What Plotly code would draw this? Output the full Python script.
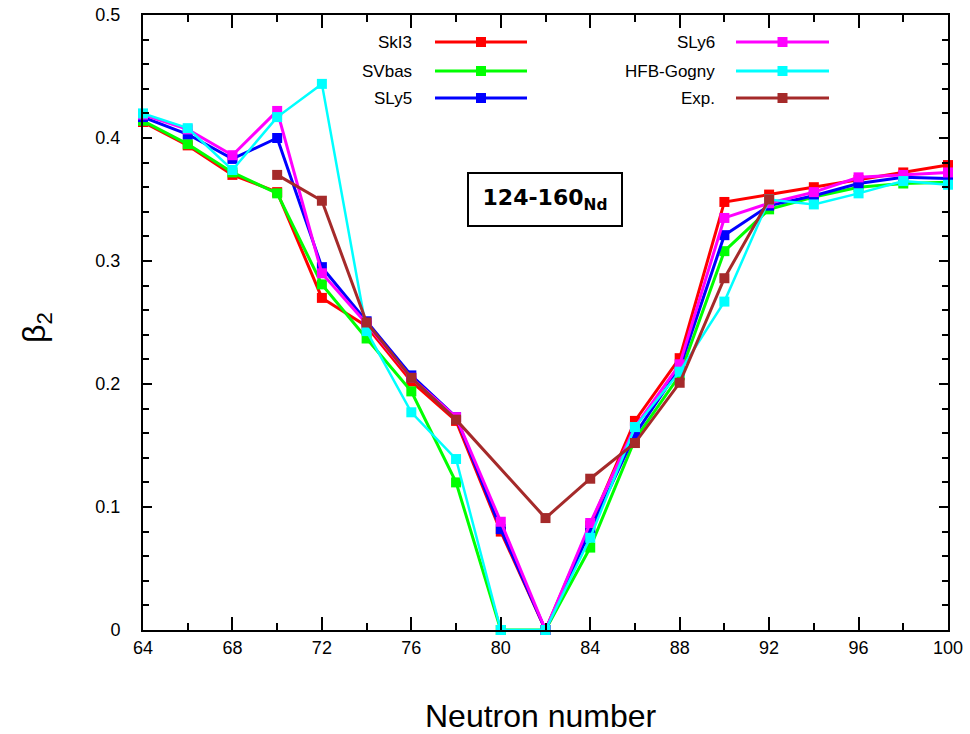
import plotly.graph_objects as go

# Quadrupole deformation beta_2 of Nd isotopes versus neutron number
neutrons = [64, 66, 68, 70, 72, 74, 76, 78, 80, 82, 84, 86, 88, 90, 92, 94, 96, 98, 100]

ski3 = [0.413, 0.394, 0.370, 0.356, 0.270, 0.247, 0.202, 0.170, 0.080, 0.0,
        0.085, 0.170, 0.221, 0.348, 0.354, 0.360, 0.366, 0.372, 0.378]
svbas = [0.414, 0.395, 0.372, 0.355, 0.281, 0.237, 0.194, 0.120, 0.0, 0.0,
         0.067, 0.155, 0.207, 0.308, 0.342, 0.352, 0.360, 0.363, 0.364]
sly5 = [0.417, 0.403, 0.383, 0.400, 0.295, 0.251, 0.207, 0.173, 0.082, 0.0,
        0.081, 0.159, 0.213, 0.321, 0.345, 0.353, 0.363, 0.368, 0.367]
sly6 = [0.419, 0.407, 0.386, 0.422, 0.290, 0.249, 0.205, 0.173, 0.088, 0.0,
        0.087, 0.165, 0.216, 0.335, 0.347, 0.356, 0.368, 0.370, 0.372]
hfb_gogny = [0.420, 0.408, 0.374, 0.417, 0.444, 0.243, 0.177, 0.139, 0.0, 0.0,
             0.075, 0.165, 0.210, 0.267, 0.350, 0.346, 0.355, 0.365, 0.362]

exp_neutrons = [70, 72, 74, 76, 78, 82, 84, 86, 88, 90, 92]
exp_beta = [0.370, 0.349, 0.250, 0.205, 0.171, 0.091, 0.123, 0.152, 0.201, 0.286, 0.350]

x_ticks = [64, 68, 72, 76, 80, 84, 88, 92, 96, 100]
y_ticks = [0, 0.1, 0.2, 0.3, 0.4, 0.5]

series = [
    ("SkI3", neutrons, ski3, "#ff0000", 3),
    ("SVbas", neutrons, svbas, "#00ff00", 3),
    ("SLy5", neutrons, sly5, "#0000ff", 3),
    ("SLy6", neutrons, sly6, "#ff00ff", 3),
    ("HFB-Gogny", neutrons, hfb_gogny, "#00ffff", 2.5),
    ("Exp.", exp_neutrons, exp_beta, "#a52a2a", 3),
]

fig = go.Figure()
for name, xs, ys, color, lw in series:
    fig.add_trace(go.Scatter(
        x=xs, y=ys, name=name, mode="lines+markers",
        line=dict(color=color, width=lw),
        marker=dict(symbol="square", size=10, color=color),
        cliponaxis=False, showlegend=False,
    ))

# Key drawn gnuplot-style: label on the left, sample line with a marker on the right
PLOT_L, PLOT_R, PLOT_T, PLOT_B = 143, 948, 15, 630


def px_x(p):
    return (p - PLOT_L) / (PLOT_R - PLOT_L)


def px_y(p):
    return (PLOT_B - p) / (PLOT_B - PLOT_T)


key_rows = [42, 71, 98]
key_cols = [(414, 435, 527), (717, 736, 829)]
annotations = []
shapes = []
for i, (name, _, _, color, lw) in enumerate(series):
    col, row = divmod(i, 3)
    tx, lx0, lx1 = key_cols[col]
    yy = px_y(key_rows[row])
    annotations.append(dict(
        x=px_x(tx), y=yy, xref="paper", yref="paper", text=name,
        showarrow=False, xanchor="right", yanchor="middle",
        font=dict(family="Liberation Sans, Arial, sans-serif", size=17, color="#000"),
    ))
    shapes.append(dict(
        type="line", xref="paper", yref="paper",
        x0=px_x(lx0), x1=px_x(lx1), y0=yy, y1=yy,
        line=dict(color=color, width=3),
    ))
    xm = px_x((lx0 + lx1) / 2)
    shapes.append(dict(
        type="rect", xref="paper", yref="paper",
        xsizemode="pixel", ysizemode="pixel", xanchor=xm, yanchor=yy,
        x0=-5, x1=5, y0=-5, y1=5,
        fillcolor=color, line=dict(width=0),
    ))

# Nucleus label box
annotations.append(dict(
    x=px_x(545), y=px_y(172), xref="paper", yref="paper",
    xanchor="center", yanchor="top",
    text="<b>124-160<sub>Nd</sub></b>", showarrow=False,
    font=dict(family="DejaVu Sans, sans-serif", size=22, color="#000"),
    bordercolor="#000", borderwidth=2, borderpad=4, bgcolor="#fff",
    width=144, height=43,
))

# Axis titles
annotations.append(dict(
    x=px_x(541), y=px_y(716), xref="paper", yref="paper",
    text="Neutron number", showarrow=False, xanchor="center", yanchor="middle",
    font=dict(family="Liberation Sans, Arial, sans-serif", size=32, color="#000"),
))
annotations.append(dict(
    x=px_x(36), y=px_y(328), xref="paper", yref="paper",
    text="β<sub>2</sub>", showarrow=False, textangle=-90,
    xanchor="center", yanchor="middle",
    font=dict(family="Liberation Sans, Arial, sans-serif", size=32, color="#000"),
))

axis_font = dict(family="Liberation Sans, Arial, sans-serif", size=18, color="#000")

fig.update_layout(
    width=970, height=734,
    margin=dict(l=PLOT_L, r=970 - PLOT_R, t=PLOT_T, b=734 - PLOT_B, autoexpand=False),
    paper_bgcolor="#fff", plot_bgcolor="#fff",
    showlegend=False,
    annotations=annotations, shapes=shapes,
    xaxis=dict(
        range=[64, 100], tickvals=x_ticks, ticks="inside", ticklen=13, tickwidth=1.5,
        tickcolor="#000", showline=True, linecolor="#000", linewidth=2,
        mirror="allticks", showgrid=False, zeroline=False, tickfont=axis_font,
        ticklabelstandoff=0, automargin=False,
        minor=dict(dtick=2, ticks="inside", ticklen=7, tickwidth=1.5,
                   tickcolor="#000", showgrid=False),
    ),
    yaxis=dict(
        range=[0, 0.5], tickvals=y_ticks, ticks="inside", ticklen=9, tickwidth=1.5,
        tickcolor="#000", showline=True, linecolor="#000", linewidth=2,
        mirror="allticks", showgrid=False, zeroline=False, tickfont=axis_font,
        ticklabelstandoff=17, automargin=False,
        minor=dict(dtick=0.02, ticks="inside", ticklen=6, tickwidth=1.5,
                   tickcolor="#000", showgrid=False),
    ),
)

fig.write_html("out.html")
